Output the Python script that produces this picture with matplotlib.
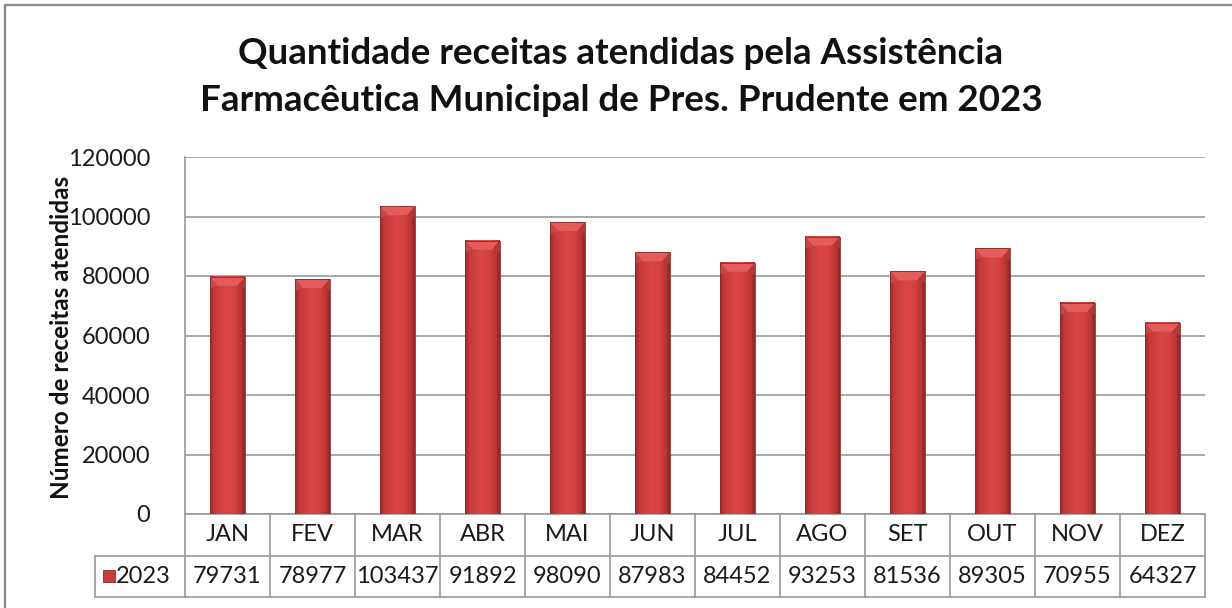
import matplotlib
matplotlib.use("Agg")
import matplotlib.pyplot as plt
import numpy as np
from matplotlib.patches import Rectangle, Polygon
from matplotlib.colors import LinearSegmentedColormap
import matplotlib.transforms as mtransforms

months = ["JAN", "FEV", "MAR", "ABR", "MAI", "JUN", "JUL", "AGO", "SET", "OUT", "NOV", "DEZ"]
values = [79731, 78977, 103437, 91892, 98090, 87983, 84452, 93253, 81536, 89305, 70955, 64327]
series_name = "2023"
yticks = [0, 20000, 40000, 60000, 80000, 100000, 120000]
title = "Quantidade receitas atendidas pela Assistência\nFarmacêutica Municipal de Pres. Prudente em 2023"
ylabel = "Número de receitas atendidas"

FONT = "Lato"
FS = 17
W, H = 1232, 608
fig = plt.figure(figsize=(W / 100, H / 100), dpi=100)
fig.patch.set_facecolor("white")

# outer chart border (only left/top visible in the crop)
fig.add_artist(Rectangle((5 / W, -0.05), 1.2, (608 - 5) / H + 0.05, transform=fig.transFigure,
                         fill=False, edgecolor="#8a8a8a", linewidth=1.6))

left, right, top, bottom = 185, 1205, 157, 514
ax = fig.add_axes([left / W, (H - bottom) / H, (right - left) / W, (bottom - top) / H])
ax.set_xlim(-0.5, len(months) - 0.5)
ax.set_ylim(0, 120000)
ax.set_yticks(yticks)
ax.set_yticklabels([str(t) for t in yticks], fontsize=FS, family=FONT, color="#1a1a1a")
ax.tick_params(axis="y", length=0, pad=25)
ax.set_xticks([])
for s in ["top", "right", "bottom"]:
    ax.spines[s].set_visible(False)
ax.spines["left"].set_color("#9a9a9a")
ax.spines["left"].set_linewidth(1.2)
ax.grid(axis="y", color="#9a9a9a", linewidth=1.2)
ax.set_axisbelow(True)

cmap = LinearSegmentedColormap.from_list("bar", [
    (0.0, "#9c2a2a"), (0.12, "#c43a3a"), (0.45, "#d94646"), (0.7, "#d44242"),
    (0.9, "#b83434"), (1.0, "#8e2424")])
grad = np.linspace(0, 1, 64).reshape(1, -1)

bw = 0.41
px_per_unit = (bottom - top) / 120000.0
bevel = 9 / px_per_unit
for i, v in enumerate(values):
    x0, x1 = i - bw / 2, i + bw / 2
    ax.imshow(grad, cmap=cmap, extent=[x0, x1, 0, v], aspect="auto", zorder=3,
              interpolation="bicubic")
    # top bevel
    ax.add_patch(Polygon([[x0, v], [x1, v], [x1 - bw * 0.22, v - bevel], [x0 + bw * 0.22, v - bevel]],
                         closed=True, facecolor="#e45c5c", edgecolor="none", zorder=4))
    ax.add_patch(Polygon([[x0, v], [x0 + bw * 0.22, v - bevel], [x0, v - bevel * 1.3]],
                         closed=True, facecolor="#c44848", edgecolor="none", zorder=4))
    ax.add_patch(Polygon([[x1, v], [x1 - bw * 0.22, v - bevel], [x1, v - bevel * 1.3]],
                         closed=True, facecolor="#b03a3a", edgecolor="none", zorder=4))
    ax.add_patch(Rectangle((x0, 0), bw, v, fill=False, edgecolor="#8a2a2a", linewidth=0.6, zorder=5))
ax.set_xlim(-0.5, len(months) - 0.5)
ax.set_ylim(0, 120000)

# data table
row_h = 41.5 / (bottom - top)
trans = mtransforms.blended_transform_factory(ax.transData, ax.transAxes)
gc = "#9a9a9a"
lw = 1.2
legend_left_px = 95
legend_left = -0.5 - (left - legend_left_px) / ((right - left) / len(months))
line_kw = dict(transform=trans, color=gc, linewidth=lw, clip_on=False)
ax.plot([legend_left, len(months) - 0.5], [-row_h, -row_h], **line_kw)
ax.plot([legend_left, len(months) - 0.5], [-2 * row_h, -2 * row_h], **line_kw)
ax.plot([-0.5, len(months) - 0.5], [0, 0], **line_kw)
ax.plot([legend_left, legend_left], [-row_h, -2 * row_h], **line_kw)
for k in range(len(months) + 1):
    ax.plot([k - 0.5, k - 0.5], [0, -2 * row_h], **line_kw)
for i, (m, v) in enumerate(zip(months, values)):
    ax.text(i, -row_h * 0.5, m, transform=trans, ha="center", va="center",
            fontsize=FS, family=FONT, color="#1a1a1a")
    ax.text(i, -row_h * 1.5, str(v), transform=trans, ha="center", va="center",
            fontsize=FS, family=FONT, color="#1a1a1a")
# legend key in table
kx = legend_left + 0.09
ksz_x = 12 / ((right - left) / len(months))
ksz_y = 12 / (bottom - top)
ax.add_patch(Rectangle((kx, -row_h * 1.5 - ksz_y / 2), ksz_x, ksz_y, transform=trans,
                       facecolor="#c83c3c", edgecolor="#8a2a2a", linewidth=0.6, clip_on=False))
ax.text(kx + ksz_x + 0.02, -row_h * 1.5, series_name, transform=trans, ha="left", va="center",
        fontsize=FS, family=FONT, color="#1a1a1a")

fig.text(0.5 + 5 / W, (H - 77) / H, title, ha="center", va="center", fontsize=26.5,
         fontweight="bold", family=FONT, linespacing=1.55, color="#111111")
fig.text(62 / W, (H - 337) / H, ylabel, rotation=90, ha="center", va="center",
         fontsize=17.5, fontweight="bold", family=FONT, color="#111111")

fig.savefig("out.png", dpi=100, facecolor="white")
